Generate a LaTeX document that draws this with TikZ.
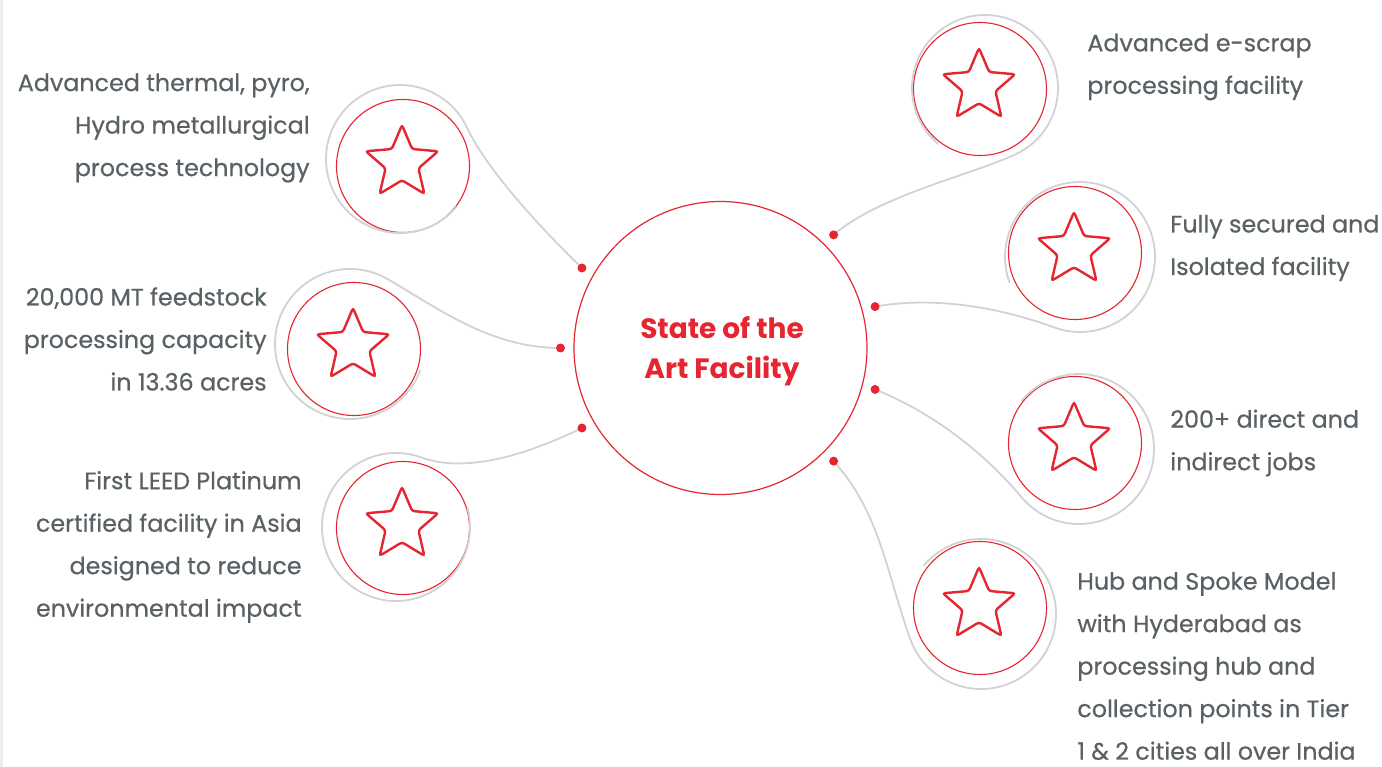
\documentclass[tikz,border=0pt]{standalone}
\usepackage{fontspec}
\setmainfont{Poppins}
\newfontfamily\blurbfont{Poppins}[FakeBold=0.5]
\usetikzlibrary{shapes.geometric,calc}

\definecolor{artred}{HTML}{E52530}
\definecolor{pingray}{HTML}{D2D2D2}
\definecolor{blurbgray}{HTML}{5A6165}

\tikzset{every picture/.style={line width=0.75pt}}
\tikzset{
  hubring/.style={circle,draw=artred,line width=1.2pt,minimum size=293pt,inner sep=0pt},
  ring/.style={circle,draw=artred,line width=1.1pt,minimum size=133pt,inner sep=0pt},
  starmark/.style={star,star points=5,star point ratio=2.2,minimum size=76pt,inner sep=0pt,draw=artred,line width=2.4pt,rounded corners=2.5pt},
  pin/.style={draw=pingray,line width=1.8pt},
  hubdot/.style={circle,fill=artred,minimum size=9pt,inner sep=0pt},
  blurb/.style={text=blurbgray,font=\blurbfont\fontsize{23.8}{42.5}\selectfont,inner sep=0pt},
  blurbL/.style={blurb,anchor=east,align=right},
  blurbR/.style={blurb,anchor=west,align=left},
}

\begin{document}
\begin{tikzpicture}[x=1pt,y=1pt,yscale=-1,xscale=1]
\useasboundingbox (0,0) rectangle (1382,767);

%Straight Lines: page edge
\draw [draw=gray!14,line width=2.5pt] (1.5,0) -- (1.5,767);

%Shape: Circle, hub
\node [hubring] (hub) at (720.5,348) {};
% Text Node
\node [text=artred,font=\fontsize{28}{40}\selectfont\bfseries,align=center,inner sep=0pt] (hubtitle) at (722,351) {State of the\\Art Facility};

%Shape: Circles with stars
\node [ring] (hydro) at (403,166) {};
\node [ring] (capacity) at (354,349) {};
\node [ring] (leed) at (403,528) {};
\node [ring] (escrap) at (980,89) {};
\node [ring] (secured) at (1075,253) {};
\node [ring] (jobs) at (1075,443) {};
\node [ring] (spoke) at (980,608) {};

\node [starmark] (hydrostar) at ($(hydro)+(-1,-3)$) {};
\node [starmark] (capacitystar) at ($(capacity)+(-1,-3)$) {};
\node [starmark] (leedstar) at ($(leed)+(-1,-3)$) {};
\node [starmark] (escrapstar) at ($(escrap)+(-1,-3)$) {};
\node [starmark] (securedstar) at ($(secured)+(-1,-3)$) {};
\node [starmark] (jobsstar) at ($(jobs)+(-1,-3)$) {};
\node [starmark] (spokestar) at ($(spoke)+(-1,-3)$) {};

%Dots round the hub
\coordinate (dhydro) at ($(hub)+(-150:160)$);
\coordinate (dcapacity) at ($(hub)+(180:160)$);
\coordinate (dleed) at ($(hub)+(150:160)$);
\coordinate (descrap) at ($(hub)+(-45:160)$);
\coordinate (dsecured) at ($(hub)+(-15:160)$);
\coordinate (djobs) at ($(hub)+(15:160)$);
\coordinate (dspoke) at ($(hub)+(45:160)$);

%Centres of the grey loops
\coordinate (ghydro) at ($(hydro)+(-3,-7)$);
\coordinate (gcapacity) at ($(capacity)+(-4,-5)$);
\coordinate (gleed) at ($(leed)+(-7,-1)$);
\coordinate (gescrap) at ($(escrap)+(5,-1)$);
\coordinate (gsecured) at ($(secured)+(5,4)$);
\coordinate (gjobs) at ($(jobs)+(4,6)$);
\coordinate (gspoke) at ($(spoke)+(1,6)$);

%Curve Lines: grey loops
\draw [pin] (dhydro) .. controls +(-136:45) and +(65:50) .. ($(ghydro)+(-25:74)$) arc[start angle=-25,end angle=-320,radius=74];
\draw [pin] (dcapacity) .. controls +(180:70) and +(30:60) .. ($(gcapacity)+(-60:75)$) arc[start angle=-60,end angle=-340,radius=75];
\draw [pin] (dleed) .. controls +(154:55) and +(20:50) .. ($(gleed)+(-70:74)$) arc[start angle=-70,end angle=-375,radius=74];
\draw [pin] (descrap) .. controls +(-41:60) and +(155:50) .. ($(gescrap)+(65:73)$) arc[start angle=65,end angle=-230,radius=73];
\draw [pin] (dsecured) .. controls +(-10:60) and +(200:60) .. ($(gsecured)+(110:75)$) arc[start angle=110,end angle=-200,radius=75];
\draw [pin] (djobs) .. controls +(22:70) and +(230:50) .. ($(gjobs)+(140:75)$) arc[start angle=140,end angle=-140,radius=75];
\draw [pin] (dspoke) .. controls +(48:70) and +(250:70) .. ($(gspoke)+(160:75)$) arc[start angle=160,end angle=-140,radius=75];

\node [hubdot] (hydrodot) at (dhydro) {};
\node [hubdot] (capacitydot) at (dcapacity) {};
\node [hubdot] (leeddot) at (dleed) {};
\node [hubdot] (escrapdot) at (descrap) {};
\node [hubdot] (secureddot) at (dsecured) {};
\node [hubdot] (jobsdot) at (djobs) {};
\node [hubdot] (spokedot) at (dspoke) {};

% Text Node
\node [blurbL] (hydrotxt) at (310,128) {Advanced thermal, pyro,\\Hydro metallurgical\\process technology};
% Text Node
\node [blurbL] (capacitytxt) at (267,339) {20,000 MT feedstock\\processing capacity\\in 13.36 acres};
% Text Node
\node [blurbL] (leedtxt) at (302,547) {First LEED Platinum\\certified facility in Asia\\designed to reduce\\environmental impact};
% Text Node
\node [blurbR] (escraptxt) at (1087,67) {Advanced e-scrap\\processing facility};
% Text Node
\node [blurbR] (securedtxt) at (1170,248) {Fully secured and\\Isolated facility};
% Text Node
\node [blurbR] (jobstxt) at (1170,443) {200+ direct and\\indirect jobs};
% Text Node
\node [blurbR] (spoketxt) at (1077,666) {Hub and Spoke Model\\with Hyderabad as\\processing hub and\\collection points in Tier\\1 \& 2 cities all over India};

\end{tikzpicture}
\end{document}
